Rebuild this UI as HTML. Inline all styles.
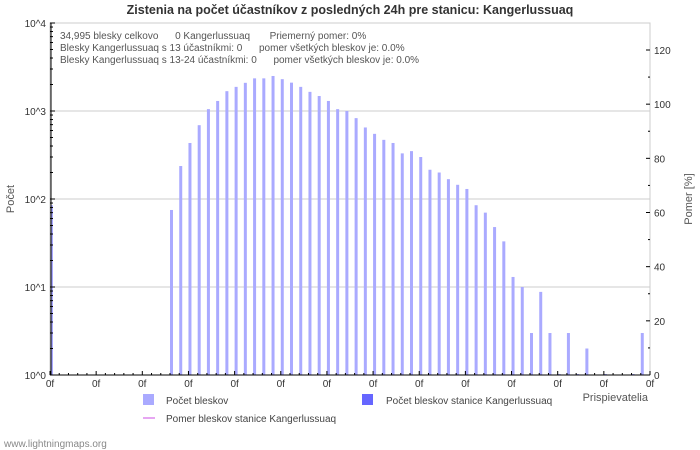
<!DOCTYPE html>
<html><head><meta charset="utf-8"><style>
body{margin:0;background:#fff;}
svg{display:block;font-family:"Liberation Sans","DejaVu Sans",sans-serif;}
</style></head><body>
<svg id="chart" width="700" height="450">
<rect width="700" height="450" fill="#fff"/>
<text x="350" y="14" text-anchor="middle" font-size="12.5" font-weight="bold" fill="#333">Zistenia na počet účastníkov z posledných 24h pre stanicu: Kangerlussuaq</text>
<g id="grid"></g>
<g id="bars"></g>
<g id="axes"></g>
<g font-size="10" fill="#555">
<text x="60" y="39">34,995 blesky celkovo&#160;&#160;&#160;&#160;&#160; 0 Kangerlussuaq&#160;&#160;&#160;&#160;&#160;&#160; Priemerný pomer: 0%</text>
<text x="60" y="51">Blesky Kangerlussuaq s 13 účastníkmi: 0&#160;&#160;&#160;&#160;&#160; pomer všetkých bleskov je: 0.0%</text>
<text x="60" y="63">Blesky Kangerlussuaq s 13-24 účastníkmi: 0&#160;&#160;&#160;&#160;&#160; pomer všetkých bleskov je: 0.0%</text>
</g>
<text x="14" y="199" font-size="11" fill="#555" text-anchor="middle" transform="rotate(-90 14 199)">Počet</text>
<text x="692" y="199" font-size="11" fill="#555" text-anchor="middle" transform="rotate(-90 692 199)">Pomer [%]</text>
<text x="648" y="401" font-size="11" fill="#555" text-anchor="end">Prispievatelia</text>
<g font-size="10" fill="#444">
<rect x="143" y="394" width="11" height="11" fill="#aaaaff"/>
<text x="166" y="404">Počet bleskov</text>
<rect x="362" y="394" width="11" height="11" fill="#6666ff"/>
<text x="386" y="404">Počet bleskov stanice Kangerlussuaq</text>
<line x1="143" y1="418" x2="155" y2="418" stroke="#dd88ee" stroke-width="1.5"/>
<text x="166" y="422">Pomer bleskov stanice Kangerlussuaq</text>
</g>
<text x="4" y="447" font-size="10" fill="#888">www.lightningmaps.org</text>
</svg>
<script>
const counts=[85,0,0,0,0,0,0,0,0,0,0,0,0,75,237,433,690,1050,1300,1680,1880,2090,2350,2350,2500,2300,2100,1880,1650,1480,1300,1050,1000,830,650,550,470,433,330,350,300,215,200,168,145,130,85,70,48,33,13,10,3,8.8,3,1,3,1,2,0,1,0,0,1,3];
const stationCounts=counts.map(()=>0);
const yTickLabels=["10^0","10^1","10^2","10^3","10^4"];
const y2TickLabels=["0","20","40","60","80","100","120"];
const NS="http://www.w3.org/2000/svg";
const X0=50,X1=650,Y0=375,Ytop=23;
const slot=(X1-X0)/counts.length;
function xS(i){return X0+i*slot;}
function yS(v){return Y0-(Y0-Ytop)*Math.log10(Math.max(v,1))/4;}
function y2S(p){return Y0-p*(Y0-50)/120;}
function mk(tag,attrs,parent){const e=document.createElementNS(NS,tag);for(const k in attrs)e.setAttribute(k,attrs[k]);parent.appendChild(e);return e;}
const grid=document.getElementById('grid'),bars=document.getElementById('bars'),axes=document.getElementById('axes');
mk('rect',{x:X0,y:Ytop,width:X1-X0,height:Y0-Ytop,fill:'none',stroke:'#ccc'},grid);
yTickLabels.forEach((l,d)=>{const y=yS(Math.pow(10,d));
 if(d>0&&d<4){const g=mk('line',{x1:X0,x2:X1,y1:y,y2:y,stroke:'#ccc'},grid);}
 const t=mk('text',{x:X0-4,y:y+4,'text-anchor':'end','font-size':10,fill:'#333'},axes);t.textContent=l;
 
 mk('line',{x1:X0,x2:X0+5,y1:y,y2:y,stroke:'#000'},axes);
 if(d<4)for(let m=2;m<10;m++){const ym=yS(m*Math.pow(10,d));mk('line',{x1:X0,x2:X0+3,y1:ym,y2:ym,stroke:'#000'},axes);}
});
y2TickLabels.forEach(l=>{const y=y2S(+l);const t=mk('text',{x:X1+4,y:y+4,'font-size':10,fill:'#333'},axes);t.textContent=l;
 
 mk('line',{x1:X1-4,x2:X1,y1:y,y2:y,stroke:'#000'},axes);
 const ym=y2S(+l+10);if(+l<120)mk('line',{x1:X1-2,x2:X1,y1:ym,y2:ym,stroke:'#000'},axes);});
counts.forEach((v,i)=>{if(v<=0)return;const x=xS(i)+(i===0?1:0);const y=v<=1?Y0-1:yS(v);
 const r=mk('rect',{x:x,y:y,width:i===0?2:3,height:Y0-y,fill:'#aaaaff'},bars);
 });
stationCounts.forEach((v,i)=>{if(v<=0)return;const y=yS(v);mk('rect',{x:xS(i),y:y,width:3,height:Y0-y,fill:'#6666ff'},bars);});
for(let i=0;i<=counts.length;i++){const x=xS(i);const big=i%5===0;
 mk('line',{x1:x,x2:x,y1:Y0,y2:Y0-(big?4:2),stroke:'#000'},axes);
 if(big){const t=mk('text',{x:x,y:Y0+12,'text-anchor':'middle','font-size':10,fill:'#333'},axes);t.textContent='0f';
 }}
mk('line',{x1:X0+1,x2:X0+1,y1:Ytop,y2:Y0,stroke:'#000'},axes);
mk('line',{x1:X0,x2:X1,y1:Y0,y2:Y0,stroke:'#000'},axes);
</script>
</body></html>
